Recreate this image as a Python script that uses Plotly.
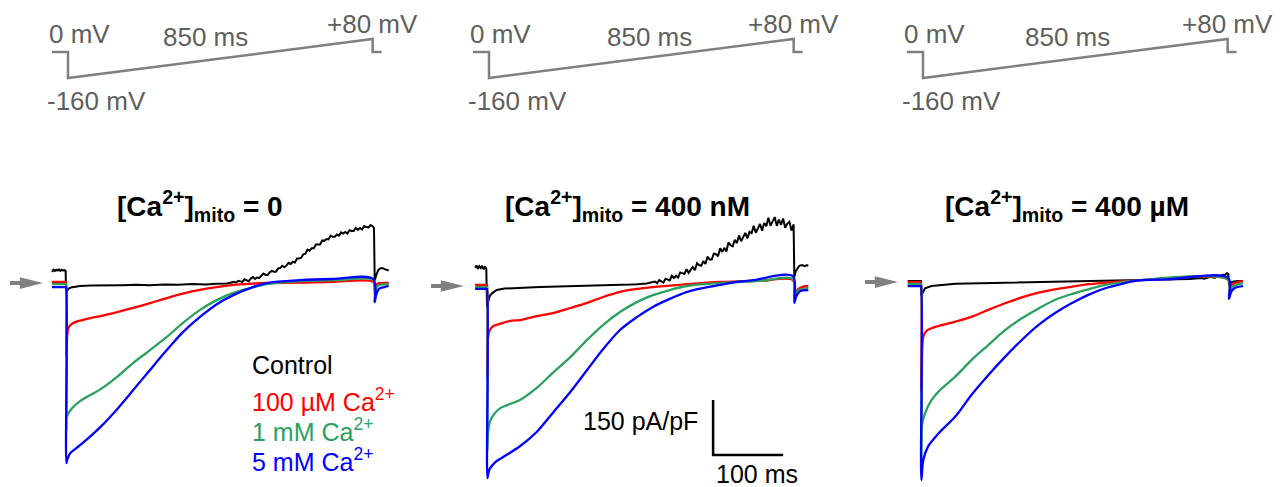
import plotly.graph_objects as go

# ---------------- data (time in ms from ramp onset, current in pA/pF) ----------------
# Panel 1: [Ca2+]mito = 0
p1_black_t = [-20, -18, -16, -14, -12, -10, -8, -6, -4, -2, -0.5, 0, 2, 4, 7, 12, 20, 35, 50, 65, 80, 100, 120, 140, 160,
              180, 200, 215, 230,
              240, 243, 246, 249, 252, 255, 258, 261, 264, 267, 270, 273, 276, 279, 282, 285, 288, 291, 294, 297, 300,
              303, 306, 309, 312, 315, 318, 321, 324, 327, 330, 333, 336, 339, 342, 345, 348, 351, 354, 357, 360, 363,
              366, 369, 372, 375, 378, 381, 384, 387, 390, 393, 396, 399, 402, 405, 408, 411, 414, 417, 420, 423, 426,
              429, 432, 435, 438, 440, 441, 443, 446, 449, 452, 455, 458, 461]
p1_black_i = [30, 36, 33, 36, 34, 37, 33, 36, 34, 35, 33, -25, -20, -15, -12, -10, -8, -7, -6, -7, -6, -5, -6, -4, -5,
              -3, -4, -2, -1,
              3, 1, 6, 4, 3, 10, 8, 5, 12, 16, 11, 15, 14, 21, 26, 22, 22, 29, 33, 31, 31,
              40, 41, 47, 43, 48, 55, 52, 58, 56, 67, 67, 69, 78, 80, 91, 88, 95, 95, 105, 106, 105,
              116, 115, 120, 119, 129, 126, 126, 132, 129, 138, 135, 139, 135, 144, 142, 142, 150, 145, 150, 146, 155,
              152, 151, 158, 155, 150, 8, 20, 35, 40, 41, 38, 35, 34]
p1_red_t = [-20, -0.5, 0, 0.5, 1.5, 3, 6, 14, 30, 49, 72, 96, 120, 144, 167, 191, 215, 239, 262, 286, 334, 380, 439,
            441, 444, 461]
p1_red_i = [3, 3, 3, -200, -150, -125, -115, -106, -98, -90, -80, -68, -55, -41, -29, -19, -11, -5, -2, 0, 1, 3, 3,
            -19, -3, 0]
p1_green_t = [-20, -0.5, 0, 0.5, 1, 9, 20, 49, 73, 96, 120, 144, 167, 191, 216, 239, 263, 287, 334, 391, 439, 441, 445, 461]
p1_green_i = [-3, -3, -3, -400, -365, -341, -322, -290, -256, -218, -183, -147, -109, -74, -46, -27, -14, -3, 5, 8, 8, -33, -8, -3]
p1_blue_t = [-20, -0.5, 0, 0.5, 1.5, 6, 13, 24, 49, 73, 96, 120, 144, 167, 191, 216, 239, 263, 287, 334, 381, 439,
             441, 443, 447, 455, 461]
p1_blue_i = [-11, -11, -11, -491, -483, -464, -453, -436, -393, -344, -292, -237, -183, -134, -93, -57, -33, -14, 0, 8, 11, 11,
             -52, -33, -16, -11, -8]

# Panel 2: [Ca2+]mito = 400 nM
p2_black_t = [-17, -15, -13, -11, -9, -7, -5, -3, -1, 0, 2, 4, 7, 10, 14, 25, 40, 60, 76, 100, 120, 140, 160, 175, 190,
              205, 215, 228,
              240, 243, 246, 249, 252, 255, 258, 261, 264, 267, 270, 273, 276, 279, 282, 285, 288, 291, 294, 297, 300,
              303, 306, 309, 312, 315, 318, 321, 324, 327, 330, 333, 336, 339, 342, 345, 348, 351, 354, 357, 360, 363,
              366, 369, 372, 375, 378, 381, 384, 387, 390, 393, 396, 399, 402, 405, 408, 411, 414, 417, 420, 423, 426,
              429, 432, 435, 438, 439, 441, 443, 446, 450, 454, 457, 459]
p2_black_i = [50, 56, 47, 54, 49, 55, 46, 52, 48, -57, -40, -27, -20, -15, -11, -7, -5, -4, -3, -2, -1, 0, 1, 2, 3,
              4, 5, 7,
              12, 8, 16, 12, 9, 20, 17, 15, 28, 22, 28, 23, 37, 35, 33, 46, 36, 44, 52, 43, 62,
              57, 55, 68, 60, 80, 72, 72, 88, 87, 81, 103, 93, 104, 94, 119, 111, 108, 126, 117, 138, 122,
              135, 145, 130, 148, 144, 164, 145, 158, 169, 151, 172, 163, 186, 164, 176, 188, 164, 181, 167, 184, 159,
              170, 175, 151, 168, 25, 40, 47, 55, 57, 54, 57, 55]
p2_red_t = [-17, -0.5, 0, 0.5, 1.5, 4, 9, 14, 33, 47, 71, 94, 119, 143, 166, 190, 214, 237, 261, 286, 333, 390, 437,
            439, 443, 450, 459]
p2_red_i = [3, 3, 3, -250, -139, -120, -109, -106, -95, -93, -82, -74, -60, -46, -30, -16, -8, -3, 1, 5, 11, 14, 16,
            -27, -11, -3, 0]
p2_green_t = [-17, -0.5, 0, 0.5, 1.5, 4, 9, 19, 47, 71, 94, 119, 143, 166, 190, 214, 237, 261, 286, 333, 390, 437,
              439, 443, 459]
p2_green_i = [-3, -3, -3, -450, -401, -371, -352, -333, -311, -278, -237, -194, -147, -106, -71, -44, -25, -11, 0, 8, 14, 19,
              -33, -14, -5]
p2_blue_t = [-17, -0.5, 0, 0.5, 1.5, 4, 9, 14, 26, 47, 71, 94, 119, 143, 166, 190, 214, 237, 261, 286, 310, 333, 357,
             380, 437, 439, 442, 447, 459]
p2_blue_i = [-8, -8, -8, -524, -515, -498, -486, -477, -463, -437, -398, -346, -289, -229, -172, -120, -85, -57, -35, -16,
             -5, 3, 11, 16, 27, -46, -27, -14, -11]

# Panel 3: [Ca2+]mito = 400 uM
p3_black_t = [-19, -0.5, 0, 0.5, 1, 5.7, 15, 49, 120, 215, 306, 384, 400, 405, 413, 420, 424, 427, 431, 434, 437, 439,
              440, 444, 452, 460]
p3_black_i = [3, 3, 3, -35, -35, -17, -11, -5, -2, 1, 4, 8, 11, 9, 14, 12, 17, 15, 20, 19, 24, 22, -8, 0, 3, 3]
p3_red_t = [-19, -0.5, 0, 0.5, 3.3, 8, 15, 25, 49, 72, 96, 120, 144, 168, 191, 215, 239, 263, 306, 439, 440, 444, 460]
p3_red_i = [0, 0, 0, -300, -149, -133, -126, -120, -108, -95, -76, -58, -42, -29, -20, -13, -6, -2, 4, 6, -35, -8, 3]
p3_green_t = [-19, -0.5, 0, 0.5, 1, 5.7, 15, 25, 49, 72, 96, 120, 144, 168, 191, 215, 239, 263, 306, 439,
              440, 444, 460]
p3_green_i = [-5, -5, -5, -520, -395, -358, -322, -299, -258, -213, -172, -131, -99, -72, -49, -33, -20, -8, 4, 6,
              -38, -14, -3]
p3_blue_t = [-19, -0.5, 0, 0.5, 3.3, 10, 25, 49, 72, 96, 120, 144, 168, 191, 215, 239, 263, 287, 306, 350, 439,
             440, 443, 448, 460]
p3_blue_i = [-11, -11, -11, -540, -485, -449, -413, -367, -308, -254, -204, -158, -117, -85, -58, -35, -17, -5, 3, 7, 11,
             -46, -27, -16, -11]

# Voltage protocol (ms, mV)
prot_t = [-45, 0, 0, 850, 850, 875]
prot_v = [0, 0, -160, 80, 0, 0]

panel_titles = ["[Ca<sup>2+</sup>]<sub>mito</sub> = 0",
                "[Ca<sup>2+</sup>]<sub>mito</sub> = 400 nM",
                "[Ca<sup>2+</sup>]<sub>mito</sub> = 400 µM"]
legend_labels = ["Control", "100 µM Ca<sup>2+</sup>", "1 mM Ca<sup>2+</sup>", "5 mM Ca<sup>2+</sup>"]
colors = ["#000000", "#ff0000", "#2ba15f", "#0000ff"]

# Scale bar (100 ms, 150 pA/pF)
sb_t = [323, 323, 423]
sb_i = [-311, -461, -461]

# ---------------- layout helpers ----------------
panels = [
    dict(traces=[(p1_black_t, p1_black_i), (p1_red_t, p1_red_i), (p1_green_t, p1_green_i), (p1_blue_t, p1_blue_i)],
         xr=[-94.3, 1742.9], yr=[-556.3, 771.8], pxr=[-189.7, 3398.2], lab850=385, title_x=200),
    dict(traces=[(p2_black_t, p2_black_i), (p2_red_t, p2_red_i), (p2_green_t, p2_green_i), (p2_blue_t, p2_blue_i)],
         xr=[-695.7, 1141.4], yr=[-548.1, 779.9], pxr=[-1364.3, 2223.6], lab850=449, title_x=627),
    dict(traces=[(p3_black_t, p3_black_i), (p3_red_t, p3_red_i), (p3_green_t, p3_green_i), (p3_blue_t, p3_blue_i)],
         xr=[-1315.7, 521.4], yr=[-559.0, 769.1], pxr=[-2575.2, 1012.8], lab850=402, title_x=1067),
]
prot_yr = [-2677, 320]

fig = go.Figure()
W, H = 1286, 487
FONT = "Liberation Sans, Arial, sans-serif"
GRAY_TXT = "#5f5f5f"
GRAY_LINE = "#808080"

layout = dict(width=W, height=H, margin=dict(l=0, r=0, t=0, b=0),
              paper_bgcolor="white", plot_bgcolor="rgba(0,0,0,0)", showlegend=False,
              font=dict(family=FONT))
annotations = []
shapes = []

for k, p in enumerate(panels):
    ci = k + 1          # current axes 1..3
    vi = k + 4          # protocol axes 4..6
    xa = "x" if ci == 1 else f"x{ci}"
    ya = "y" if ci == 1 else f"y{ci}"
    for (t, i), c in zip(p["traces"], colors):
        if c == "#000000":
            ln = dict(color=c, width=2)
        else:
            ln = dict(color=c, width=2.3, shape="spline", smoothing=0.9)
        fig.add_trace(go.Scatter(x=t, y=i, mode="lines", xaxis=xa, yaxis=ya, line=ln, hoverinfo="skip"))
    fig.add_trace(go.Scatter(x=prot_t, y=prot_v, mode="lines", xaxis=f"x{vi}", yaxis=f"y{vi}",
                             line=dict(color=GRAY_LINE, width=2.5), hoverinfo="skip"))
    axname = "xaxis" if ci == 1 else f"xaxis{ci}"
    ayname = "yaxis" if ci == 1 else f"yaxis{ci}"
    layout[axname] = dict(domain=[0, 1], range=p["xr"], visible=False, anchor=ya, fixedrange=True)
    layout[ayname] = dict(domain=[0, 1], range=p["yr"], visible=False, anchor=xa, fixedrange=True)
    layout[f"xaxis{vi}"] = dict(domain=[0, 1], range=p["pxr"], visible=False, anchor=f"y{vi}", fixedrange=True)
    layout[f"yaxis{vi}"] = dict(domain=[0, 1], range=prot_yr, visible=False, anchor=f"x{vi}", fixedrange=True)

    # protocol labels
    pa = dict(xref=f"x{vi}", yref=f"y{vi}", showarrow=False, font=dict(size=26, color=GRAY_TXT, family=FONT))
    annotations += [
        dict(pa, x=-58, y=111, text="0 mV", xanchor="left", yanchor="middle"),
        dict(pa, x=p["lab850"], y=92, text="850 ms", xanchor="center", yanchor="middle"),
        dict(pa, x=716, y=172, text="+80 mV", xanchor="left", yanchor="middle"),
        dict(pa, x=-65, y=-302, text="-160 mV", xanchor="left", yanchor="middle"),
    ]
    # title
    annotations.append(dict(xref="paper", yref="paper", x=p["title_x"] / W, y=1 - 206 / H,
                            text="<b>" + panel_titles[k] + "</b>", showarrow=False,
                            xanchor="center", yanchor="middle",
                            font=dict(size=28, color="black", family=FONT)))
    # baseline arrow
    shapes.append(dict(type="path", xref=xa, yref=ya,
                       path="M -80,5.5 L -66,5.5 L -66,16 L -33,0 L -66,-16 L -66,-5.5 L -80,-5.5 Z",
                       fillcolor=GRAY_LINE, line=dict(width=0)))

# legend text (panel 1)
leg_y = [365, 400, 430, 460]
for lab, c, yy in zip(legend_labels, colors, leg_y):
    annotations.append(dict(xref="paper", yref="paper", x=250 / W, y=1 - yy / H, text=lab,
                            showarrow=False, xanchor="left", yanchor="middle",
                            font=dict(size=25, color=c, family=FONT)))

# scale bar
fig.add_trace(go.Scatter(x=sb_t, y=sb_i, mode="lines", xaxis="x2", yaxis="y2",
                         line=dict(color="black", width=2.5), hoverinfo="skip"))
annotations += [
    dict(xref="x2", yref="y2", x=304, y=-368, text="150 pA/pF", showarrow=False,
         xanchor="right", yanchor="middle", font=dict(size=25, color="black", family=FONT)),
    dict(xref="x2", yref="y2", x=324, y=-512, text="100 ms", showarrow=False,
         xanchor="left", yanchor="middle", font=dict(size=25, color="black", family=FONT)),
]

layout["annotations"] = annotations
layout["shapes"] = shapes
fig.update_layout(**layout)

fig.write_html("out.html", config={"displayModeBar": False},
               post_script="document.body.style.margin='0';document.body.style.overflow='hidden';")
